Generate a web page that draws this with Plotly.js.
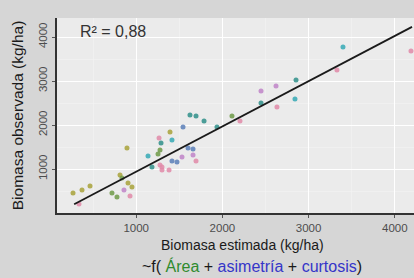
<!DOCTYPE html>
<html><head><meta charset="utf-8">
<script src="https://cdn.plot.ly/plotly-3.0.1.min.js"></script>
<style>html,body{margin:0;padding:0;background:#d6d6d6;}#c{width:414px;height:278px;}</style>
</head><body><div id="c"></div>
<script>
// Data (kg/ha)
const yellowX = [267, 371, 464, 812, 905, 951, 893, 1392];
const yellowY = [455, 523, 614, 864, 682, 591, 1477, 1841];
const pinkX = [336, 928, 1265, 1299, 1299, 1381, 1276, 1694, 2633, 3329, 4188, 2204];
const pinkY = [205, 386, 1705, 1045, 977, 977, 1091, 1182, 2409, 3250, 3682, 2091];
const greenX = [719, 777, 835, 1276, 2111, 1253];
const greenY = [455, 364, 795, 1432, 2205, 1341];
const cyanX = [1137, 1415, 2842, 3399];
const cyanY = [1295, 1659, 2591, 3773];
const tealX = [1624, 1694, 1787, 1288, 1937, 2448, 2854, 1183];
const tealY = [2227, 2205, 2091, 1591, 1955, 2500, 3023, 1045];
const blueX = [1543, 1415, 1601, 1659, 1473];
const blueY = [1955, 1182, 1477, 1455, 1159];
const magentaX = [858, 1659, 2448, 2622, 1531];
const magentaY = [523, 1318, 2773, 2886, 1273];
const fitX = [280, 4200];
const fitY = [200, 4230];
const xTicks = [1000, 2000, 3000, 4000];
const yTicks = [1000, 2000, 3000, 4000];

function pts(x, y, c) {
  return {x: x, y: y, type: 'scatter', mode: 'markers', hoverinfo: 'skip',
    marker: {size: 5, color: c, opacity: 0.85, line: {width: 0}}};
}
const data = [
  pts(yellowX, yellowY, '#a8a23a'),
  pts(pinkX, pinkY, '#e08aa8'),
  pts(greenX, greenY, '#6f9a48'),
  pts(cyanX, cyanY, '#35a9b5'),
  pts(tealX, tealY, '#2f8f8a'),
  pts(blueX, blueY, '#5a7fb8'),
  pts(magentaX, magentaY, '#c084c8'),
  {x: fitX, y: fitY, type: 'scatter', mode: 'lines', hoverinfo: 'skip',
   line: {color: '#1a1a1a', width: 1.8}}
];
const font = {family: 'Liberation Sans, Arial, sans-serif'};
const layout = {
  width: 414, height: 278,
  margin: {l: 57, r: 0, t: 18, b: 65},
  paper_bgcolor: '#d6d6d6',
  plot_bgcolor: '#ebebeb',
  showlegend: false,
  font: {family: font.family, color: '#333'},
  xaxis: {
    range: [81, 4223], tickvals: xTicks, ticktext: xTicks.map(String),
    showgrid: true, gridcolor: '#ffffff', gridwidth: 1,
    minor: {dtick: 500, tick0: 0, showgrid: true, gridcolor: '#f4f4f4', gridwidth: 0.6},
    zeroline: false, showline: true, linecolor: '#333', linewidth: 2,
    ticks: 'outside', ticklen: 3, tickcolor: '#555',
    tickfont: {size: 11.5, color: '#4d4d4d', family: font.family}
  },
  yaxis: {
    range: [0, 4432], tickvals: yTicks, ticktext: yTicks.map(String),
    tickangle: -90,
    showgrid: true, gridcolor: '#ffffff', gridwidth: 1,
    minor: {dtick: 500, tick0: 0, showgrid: true, gridcolor: '#f4f4f4', gridwidth: 0.6},
    zeroline: false, showline: true, linecolor: '#333', linewidth: 2,
    ticks: 'outside', ticklen: 3, tickcolor: '#555',
    tickfont: {size: 11.5, color: '#4d4d4d', family: font.family}
  },
  annotations: [
    {xref: 'paper', yref: 'paper', x: 0.058, y: 0.93, xanchor: 'left', yanchor: 'middle',
     text: 'R² = 0,88', showarrow: false, font: {size: 16, color: '#333', family: font.family}},
    {xref: 'paper', yref: 'paper', x: 0.52, y: -0.165, xanchor: 'center', yanchor: 'middle',
     text: 'Biomasa estimada (kg/ha)', showarrow: false,
     font: {size: 14, color: '#1a1a1a', family: font.family}},
    {xref: 'paper', yref: 'paper', x: 0.545, y: -0.27, xanchor: 'center', yanchor: 'middle',
     text: '~f( <span style="color:#2e8b2e">Área</span> + <span style="color:#3535c8">asimetría</span> + <span style="color:#3535c8">curtosis</span>)',
     showarrow: false, font: {size: 16, color: '#1a1a1a', family: font.family}},
    {xref: 'paper', yref: 'paper', x: -0.11, y: 0.5, xanchor: 'center', yanchor: 'middle',
     textangle: -90, text: 'Biomasa observada (kg/ha)', showarrow: false,
     font: {size: 15.5, color: '#1a1a1a', family: font.family}}
  ]
};
Plotly.newPlot('c', data, layout, {staticPlot: true, displayModeBar: false});
</script></body></html>
